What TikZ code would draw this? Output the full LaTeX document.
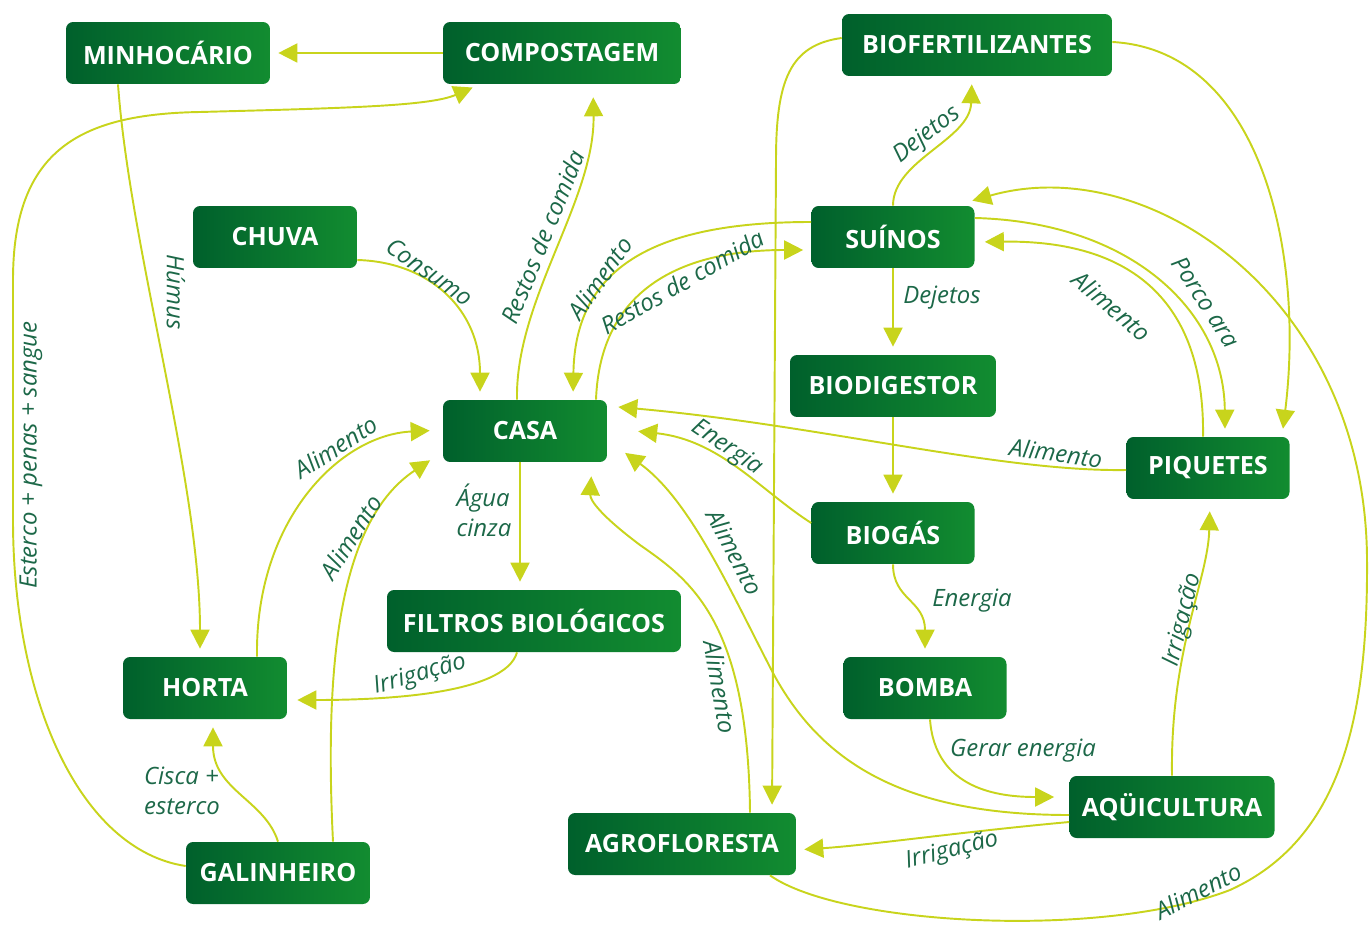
\documentclass[tikz,border=0pt]{standalone}
\usepackage{fontspec}
\setmainfont{Open Sans}
\usetikzlibrary{arrows.meta}
\definecolor{boxdark}{RGB}{0,96,44}
\definecolor{boxlight}{RGB}{18,140,48}
\definecolor{flowline}{RGB}{200,212,28}
\definecolor{flowtext}{RGB}{28,104,72}

\begin{document}
\begin{tikzpicture}[x=0.02cm, y=-0.02cm,
  box/.style={rounded corners=4pt, left color=boxdark, right color=boxlight, text=white,
    font=\bfseries\fontsize{14.3}{16}\selectfont, minimum height=1.24cm, minimum width=3.28cm, inner sep=0pt},
  flow/.style={draw=flowline, line width=1.1pt, -{Triangle[length=0.38cm, width=0.38cm]}, shorten >=0.16cm},
  lbl/.style={text=flowtext, font=\itshape\fontsize{13.6}{17}\selectfont, inner sep=1pt}]
\useasboundingbox (0,0) rectangle (1371,932);

% The boxes
\node[box, minimum width=4.08cm] (minho) at (168,53) {MINHOCÁRIO};
\node[box, minimum width=4.76cm] (compo) at (562,53) {COMPOSTAGEM};
\node[box, minimum width=5.4cm] (biofert) at (977,45) {BIOFERTILIZANTES};
\node[box] (chuva) at (275,237) {CHUVA};
\node[box, minimum width=3.26cm] (suinos) at (893,237) {SUÍNOS};
\node[box, minimum width=4.12cm] (biodig) at (893,386) {BIODIGESTOR};
\node[box] (casa) at (525,431) {CASA};
\node[box, minimum width=3.26cm] (piquetes) at (1208,468) {PIQUETES};
\node[box, minimum width=3.26cm] (biogas) at (893,533) {BIOGÁS};
\node[box, minimum width=5.88cm] (filtros) at (534,621) {FILTROS BIOLÓGICOS};
\node[box] (horta) at (205,688) {HORTA};
\node[box, minimum width=3.26cm] (bomba) at (925,688) {BOMBA};
\node[box, minimum width=4.1cm] (aqui) at (1172,807) {AQÜICULTURA};
\node[box, minimum width=4.56cm] (agro) at (682,844) {AGROFLORESTA};
\node[box, minimum width=3.68cm] (galin) at (278,873) {GALINHEIRO};

% Flows on the left
\draw[flow] (compo) -- (minho);
\draw[flow] (minho.south -| 118,0) .. controls (130,250) and (200,480) .. (horta.north -| 200,0);
\draw[flow] (galin.west |- 0,866) .. controls (80,850) and (13,700) .. (13,520) -- (13,280)
  .. controls (13,150) and (80,114) .. (200,112) .. controls (350,108) and (430,106) .. (compo.south -| 480,0);
\draw[flow] (chuva.east |- 0,260) .. controls (430,262) and (480,310) .. (casa.north -| 480,0);
\draw[flow, shorten >=0.26cm] (casa.north -| 517,0) .. controls (515,300) and (595,200) .. (compo.south -| 593,0);
\draw[flow] (suinos.west |- 0,222) .. controls (650,222) and (575,270) .. (casa.north -| 573,0);
\draw[flow] (casa.north -| 596,0) .. controls (600,290) and (680,250) .. (suinos.west |- 0,250);
\draw[flow] (casa.south -| 520,0) -- (filtros.north -| 520,0);
\draw[flow, shorten >=0.2cm] (filtros.south -| 517,0) .. controls (505,695) and (380,700) .. (horta.east |- 0,700);
\draw[flow, shorten >=0.26cm] (horta.north -| 257,0) .. controls (255,520) and (340,435) .. (casa.west |- 0,430);
\draw[flow, shorten >=0.3cm] (galin.north -| 333,0) .. controls (324,660) and (340,520) .. (casa.west |- 0,452);
\draw[flow] (galin.north -| 278,0) .. controls (265,800) and (213,790) .. (horta.south -| 213,0);

% Flows on the right
\draw[flow] (suinos.north) .. controls (893,160) and (970,140) .. (biofert.south -| 972,0);
\draw[flow] (suinos) -- (biodig);
\draw[flow] (biodig) -- (biogas);
\draw[flow, shorten >=0.62cm] (biogas.west |- 0,523) .. controls (760,490) and (720,440) .. (casa.east |- 0,428);
\draw[flow, shorten >=0.22cm] (piquetes.west |- 0,470) .. controls (1000,472) and (820,425) .. (casa.east |- 0,406);
\draw[flow, shorten >=0.2cm] (piquetes.north -| 1203,0) .. controls (1205,300) and (1130,240) .. (suinos.east |- 0,242);
\draw[flow] (suinos.east |- 0,218) .. controls (1130,222) and (1224,310) .. (piquetes.north -| 1225,0);
\draw[flow] (biofert.east |- 0,42) .. controls (1260,50) and (1305,250) .. (piquetes.north -| 1282,0);
\draw[flow] (biofert.west |- 0,38) .. controls (790,45) and (776,80) .. (776,160) -- (agro.north -| 772,0);
\draw[flow, shorten >=0.36cm] (agro.south -| 770,0) .. controls (840,925) and (1100,940) .. (1230,890)
  .. controls (1340,840) and (1368,720) .. (1367,560) .. controls (1366,300) and (1150,150) .. (suinos.north -| 955,0);
\draw[flow, shorten >=0.44cm] (aqui.west |- 0,815) .. controls (900,815) and (820,760) .. (773,673)
  .. controls (730,590) and (690,500) .. (casa.east |- 0,440);
\draw[flow, shorten >=0.28cm] (agro.north -| 750,0) .. controls (748,620) and (690,580) .. (640,545)
  .. controls (600,515) and (590,500) .. (casa.south -| 592,0);
\draw[flow] (aqui.west |- 0,822) .. controls (960,832) and (870,845) .. (agro.east |- 0,850);
\draw[flow, shorten >=0.24cm] (aqui.north -| 1172,0) .. controls (1170,650) and (1208,580) .. (piquetes.south -| 1210,0);
\draw[flow] (biogas.south) .. controls (893,600) and (925,600) .. (bomba.north -| 925,0);
\draw[flow, shorten >=0.3cm] (bomba.south -| 930,0) .. controls (935,790) and (1000,797) .. (aqui.west |- 0,797);

% Labels
\node[lbl, rotate=-90] (tHumus) at (176,292) {Húmus};
\node[lbl, rotate=90] (tEsterco) at (31,455) {Esterco + penas + sangue};
\node[lbl, rotate=-35] (tConsumo) at (430,272) {Consumo};
\node[lbl, rotate=68] (tRestosA) at (543,237) {Restos de comida};
\node[lbl, rotate=55] (tAlimA) at (600,278) {Alimento};
\node[lbl, rotate=30] (tRestosB) at (682,282) {Restos de comida};
\node[lbl, rotate=38] (tDejetosA) at (927,135) {Dejetos};
\node[lbl] (tDejetosB) at (942,298) {Dejetos};
\node[lbl, rotate=-34] (tEnergiaA) at (727,448) {Energia};
\node[lbl, rotate=-8] (tAlimB) at (1056,453) {Alimento};
\node[lbl, rotate=-40] (tAlimC) at (1112,306) {Alimento};
\node[lbl, rotate=-57] (tPorco) at (1206,302) {Porco ara};
\node[lbl, align=left] (tAgua) at (484,510) {Água\\cinza};
\node[lbl, rotate=33] (tAlimD) at (336,447) {Alimento};
\node[lbl, rotate=58] (tAlimE) at (351,537) {Alimento};
\node[lbl, rotate=16] (tIrrA) at (420,675) {Irrigação};
\node[lbl, rotate=-62] (tAlimF) at (735,552) {Alimento};
\node[lbl, rotate=-80] (tAlimG) at (720,687) {Alimento};
\node[lbl] (tEnergiaB) at (972,601) {Energia};
\node[lbl] (tGerar) at (1023,751) {Gerar energia};
\node[lbl, rotate=76] (tIrrB) at (1183,620) {Irrigação};
\node[lbl, rotate=14] (tIrrC) at (952,851) {Irrigação};
\node[lbl, rotate=27] (tAlimH) at (1198,891) {Alimento};
\node[lbl, align=left] (tCisca) at (182,791) {Cisca +\\esterco};
\end{tikzpicture}
\end{document}
